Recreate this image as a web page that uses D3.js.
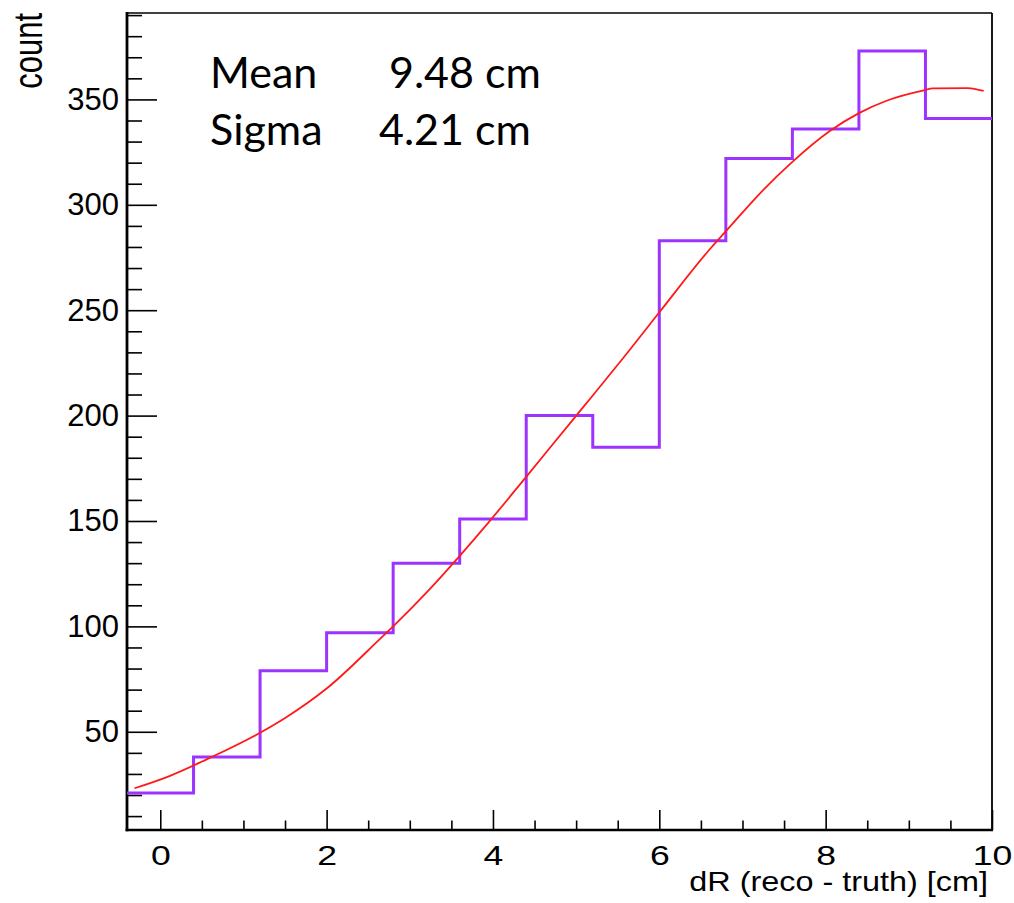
<!DOCTYPE html>
<html>
<head>
<meta charset="utf-8">
<script src="https://cdn.jsdelivr.net/npm/d3@7"></script>
<style>
	body { margin: 0; background: #fff; }
	svg { display: block; }
</style>
</head>
<body>
<div id="chart"></div>
<script>
// histogram bins (edges) and counts
let binEdges = [-0.4, 0.4, 1.2, 2.0, 2.8, 3.6, 4.4, 5.2, 6.0, 6.8, 7.6, 8.4, 9.2, 10.0];
let binCounts = [21, 38, 79, 97, 130, 151, 200, 185, 283, 322, 336, 373, 341];

// fitted curve, sampled by eye along the red line
let fitX = [-0.31, 0.11, 0.51, 1.2, 1.52, 2.0, 2.68, 2.8, 3.2, 3.59, 3.94, 4.38, 4.96, 5.21, 5.6, 6.0, 6.63, 6.79, 7.2, 7.59, 8.05, 8.4, 8.74, 9.18, 9.29, 9.71, 9.9];
let fitY = [23.2, 29, 36, 49.5, 57, 70.5, 95.5, 100, 116, 133, 149, 170, 198, 210, 229, 249, 280, 287, 305, 320, 335, 343.5, 349.5, 354.3, 355.2, 355.4, 354];

let xMajor = [0, 2, 4, 6, 8, 10];
let xMinor = [0.5, 1, 1.5, 2.5, 3, 3.5, 4.5, 5, 5.5, 6.5, 7, 7.5, 8.5, 9, 9.5];
let yMajor = [50, 100, 150, 200, 250, 300, 350];
let yMinor = [10, 20, 30, 40, 60, 70, 80, 90, 110, 120, 130, 140, 160, 170, 180, 190, 210, 220, 230, 240, 260, 270, 280, 290, 310, 320, 330, 340, 360, 370, 380, 390];

let statLabels = ["Mean", "Sigma"];
let statValues = ["9.48 cm", "4.21 cm"];

let xTitle = "dR (reco - truth) [cm]";
let yTitle = "count";

function graph(id) {
	let width = 1014, height = 903;
	let left = 127, right = 992, top = 13, bottom = 830;
	let axisFont = "'Liberation Sans', Arial, Helvetica, sans-serif";

	let x = d3.scaleLinear().domain([-0.4, 10]).range([left, right]);
	let y = d3.scaleLinear().domain([3.4, 391]).range([bottom, top]);

	let svg = d3.select(id).append("svg")
		.attr("width", width)
		.attr("height", height)
		.style("background", "#fff");

	// y axis, ticks pointing into the frame
	let yAxisMajor = svg.append("g")
		.attr("transform", `translate(${left},0)`)
		.call(d3.axisLeft(y).tickValues(yMajor).tickSizeInner(-30).tickSizeOuter(0).tickPadding(8));
	yAxisMajor.selectAll("text")
		.style("font-family", axisFont)
		.style("font-size", "31px")
		.attr("fill", "#000");

	svg.append("g")
		.attr("transform", `translate(${left},0)`)
		.call(d3.axisLeft(y).tickValues(yMinor).tickSizeInner(-15).tickSizeOuter(0).tickFormat(""));

	// x axis
	let xAxisMajor = svg.append("g")
		.attr("transform", `translate(0,${bottom})`)
		.call(d3.axisBottom(x).tickValues(xMajor).tickSizeInner(-20).tickSizeOuter(0).tickPadding(15));
	xAxisMajor.selectAll("text")
		.style("font-family", axisFont)
		.style("font-size", "28px")
		.attr("fill", "#000")
		.attr("transform", "scale(1.27,1)");

	svg.append("g")
		.attr("transform", `translate(0,${bottom})`)
		.call(d3.axisBottom(x).tickValues(xMinor).tickSizeInner(-9.5).tickSizeOuter(0).tickFormat(""));

	svg.selectAll(".domain").remove();
	svg.selectAll(".tick line").attr("stroke", "#000").attr("stroke-width", 1.6);

	// frame
	svg.append("line").attr("x1", left).attr("x2", right).attr("y1", top).attr("y2", top)
		.attr("stroke", "#000").attr("stroke-width", 1.7);
	svg.append("line").attr("x1", right).attr("x2", right).attr("y1", top).attr("y2", bottom)
		.attr("stroke", "#000").attr("stroke-width", 1.8);
	svg.append("line").attr("x1", left).attr("x2", left).attr("y1", top - 1).attr("y2", bottom + 1.3)
		.attr("stroke", "#000").attr("stroke-width", 2.8);
	svg.append("line").attr("x1", left - 1.4).attr("x2", right + 1).attr("y1", bottom).attr("y2", bottom)
		.attr("stroke", "#000").attr("stroke-width", 2.6);

	// histogram as a step outline
	let steps = [];
	binCounts.forEach((c, i) => {
		steps.push([binEdges[i], c]);
		steps.push([binEdges[i + 1], c]);
	});
	let stepLine = d3.line()
		.x((d) => x(d[0]))
		.y((d) => y(d[1]));
	svg.append("path")
		.datum(steps)
		.attr("d", stepLine)
		.attr("fill", "none")
		.attr("stroke", "#9d33ff")
		.attr("stroke-width", 3);

	// fit curve
	let fitPoints = fitX.map((v, i) => [v, fitY[i]]);
	let fitLine = d3.line()
		.x((d) => x(d[0]))
		.y((d) => y(d[1]))
		.curve(d3.curveMonotoneX);
	svg.append("path")
		.datum(fitPoints)
		.attr("d", fitLine)
		.attr("fill", "none")
		.attr("stroke", "#ff1a1a")
		.attr("stroke-width", 1.8);

	// axis titles
	svg.append("text")
		.attr("transform", `translate(${right - 4},891) scale(1.2,1)`)
		.attr("text-anchor", "end")
		.style("font-family", axisFont)
		.style("font-size", "27px")
		.attr("fill", "#000")
		.text(xTitle);

	svg.append("text")
		.attr("transform", "translate(42,13) scale(1.3,1) rotate(-90)")
		.attr("text-anchor", "end")
		.style("font-family", axisFont)
		.style("font-size", "31px")
		.attr("fill", "#000")
		.text(yTitle);

	// fit results text
	let statX = [210, 210];
	let valueX = [389, 379];
	let statY = [88, 145];
	statLabels.forEach((s, i) => {
		svg.append("text")
			.attr("x", statX[i]).attr("y", statY[i])
			.style("font-family", "Lato, 'Open Sans', sans-serif")
			.style("font-size", "43px")
			.attr("fill", "#000")
			.text(s);
		svg.append("text")
			.attr("x", valueX[i]).attr("y", statY[i])
			.style("font-family", "Lato, 'Open Sans', sans-serif")
			.style("font-size", "43px")
			.attr("fill", "#000")
			.text(statValues[i]);
	});
}

graph("#chart");
</script>
</body>
</html>
